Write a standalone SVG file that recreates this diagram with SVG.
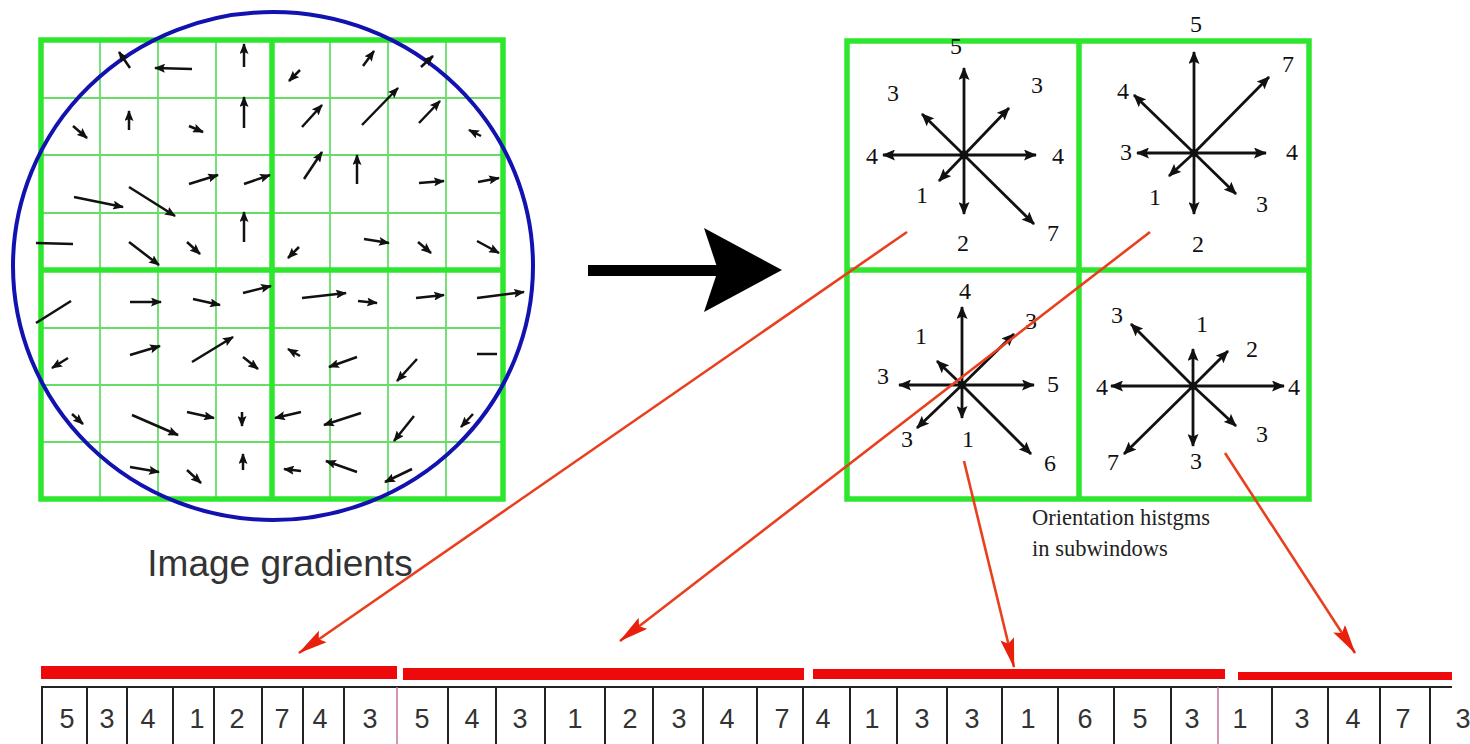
<svg xmlns="http://www.w3.org/2000/svg" width="1470" height="744" viewBox="0 0 1470 744">
<style>
.thin{stroke:#66dd66;stroke-width:1.8;fill:none}
.thick{stroke:#2ee62e;stroke-width:5.5;fill:none}
.ga{stroke:#111;stroke-width:2.5;fill:none;marker-end:url(#ah)}
.gl{stroke:#111;stroke-width:2.5;fill:none}
.ha{stroke:#111;stroke-width:2.8;fill:none;marker-end:url(#hh)}
.red{stroke:#e8401e;stroke-width:2.6;fill:none;marker-end:url(#rh)}
.hl{font-family:"Liberation Serif",serif;font-size:24px;fill:#111;text-anchor:middle}
.tn{font-family:"Liberation Sans",sans-serif;font-size:27px;fill:#333;text-anchor:middle}
.tl{stroke:#222;stroke-width:2}
.bar{fill:#ee0a0a}
</style>
<defs>
<marker id="ah" markerUnits="userSpaceOnUse" markerWidth="11" markerHeight="9" refX="10" refY="4.5" orient="auto"><path d="M0,0 L11,4.5 L0,9 L2,4.5 z" fill="#111"/></marker>
<marker id="hh" markerUnits="userSpaceOnUse" markerWidth="13" markerHeight="11" refX="12" refY="5.5" orient="auto"><path d="M0,0 L13,5.5 L0,11 L2.5,5.5 z" fill="#111"/></marker>
<marker id="rh" markerUnits="userSpaceOnUse" markerWidth="30" markerHeight="14" refX="29" refY="7" orient="auto"><path d="M0,0 L30,7 L0,14 L5,7 z" fill="#e8200c"/></marker>
</defs>
<rect width="1470" height="744" fill="#fff"/>

<g id="gradient-grid">
<g class="thin">
<line x1="100" y1="40" x2="100" y2="499"/><line x1="158" y1="40" x2="158" y2="499"/><line x1="216" y1="40" x2="216" y2="499"/>
<line x1="330" y1="40" x2="330" y2="499"/><line x1="388" y1="40" x2="388" y2="499"/><line x1="446" y1="40" x2="446" y2="499"/>
<line x1="41" y1="98" x2="503" y2="98"/><line x1="41" y1="155" x2="503" y2="155"/><line x1="41" y1="213" x2="503" y2="213"/>
<line x1="41" y1="328" x2="503" y2="328"/><line x1="41" y1="385" x2="503" y2="385"/><line x1="41" y1="442" x2="503" y2="442"/>
</g>
<g class="thick">
<rect x="41" y="40" width="462" height="459"/>
<line x1="272" y1="40" x2="272" y2="499"/><line x1="41" y1="270" x2="503" y2="270"/>
</g>
<ellipse cx="273" cy="266" rx="260" ry="254" fill="none" stroke="#1212b0" stroke-width="4"/>
<g id="gradients">
<line class="ga" x1="130" y1="68" x2="119" y2="52"/>
<line class="ga" x1="192" y1="69" x2="155" y2="68"/>
<line class="ga" x1="244" y1="67" x2="244" y2="44"/>
<line class="ga" x1="73" y1="126" x2="87" y2="138"/>
<line class="ga" x1="129" y1="130" x2="129" y2="111"/>
<line class="ga" x1="189" y1="126" x2="203" y2="132"/>
<line class="ga" x1="244" y1="128" x2="244" y2="97"/>
<line class="ga" x1="189" y1="184" x2="218" y2="175"/>
<line class="ga" x1="244" y1="184" x2="270" y2="175"/>
<line class="ga" x1="74" y1="197" x2="123" y2="207"/>
<line class="ga" x1="129" y1="187" x2="175" y2="216"/>
<line class="gl" x1="36" y1="243" x2="73" y2="244"/>
<line class="ga" x1="129" y1="242" x2="159" y2="265"/>
<line class="ga" x1="187" y1="242" x2="200" y2="254"/>
<line class="ga" x1="244" y1="242" x2="244" y2="212"/>
<line class="ga" x1="300" y1="70" x2="289" y2="81"/>
<line class="ga" x1="363" y1="66" x2="374" y2="51"/>
<line class="ga" x1="421" y1="67" x2="433" y2="56"/>
<line class="ga" x1="302" y1="127" x2="322" y2="105"/>
<line class="ga" x1="362" y1="125" x2="398" y2="88"/>
<line class="ga" x1="419" y1="123" x2="440" y2="101"/>
<line class="ga" x1="481" y1="136" x2="469" y2="130"/>
<line class="ga" x1="304" y1="179" x2="322" y2="152"/>
<line class="ga" x1="357" y1="184" x2="357" y2="155"/>
<line class="ga" x1="419" y1="183" x2="444" y2="181"/>
<line class="ga" x1="478" y1="182" x2="499" y2="178"/>
<line class="ga" x1="299" y1="247" x2="288" y2="258"/>
<line class="ga" x1="364" y1="239" x2="389" y2="243"/>
<line class="ga" x1="418" y1="242" x2="431" y2="253"/>
<line class="ga" x1="477" y1="241" x2="499" y2="253"/>
<line class="gl" x1="36" y1="323" x2="71" y2="301"/>
<line class="ga" x1="130" y1="302" x2="161" y2="302"/>
<line class="ga" x1="193" y1="299" x2="220" y2="305"/>
<line class="ga" x1="243" y1="293" x2="271" y2="286"/>
<line class="ga" x1="68" y1="358" x2="52" y2="368"/>
<line class="ga" x1="130" y1="355" x2="160" y2="346"/>
<line class="ga" x1="192" y1="362" x2="233" y2="337"/>
<line class="ga" x1="243" y1="357" x2="258" y2="369"/>
<line class="ga" x1="72" y1="414" x2="83" y2="424"/>
<line class="ga" x1="132" y1="415" x2="178" y2="435"/>
<line class="ga" x1="187" y1="412" x2="214" y2="418"/>
<line class="ga" x1="242" y1="412" x2="242" y2="426"/>
<line class="ga" x1="130" y1="467" x2="159" y2="472"/>
<line class="ga" x1="187" y1="470" x2="201" y2="483"/>
<line class="ga" x1="243" y1="470" x2="243" y2="454"/>
<line class="ga" x1="302" y1="298" x2="346" y2="293"/>
<line class="ga" x1="358" y1="301" x2="377" y2="303"/>
<line class="ga" x1="416" y1="298" x2="444" y2="295"/>
<line class="ga" x1="477" y1="298" x2="524" y2="292"/>
<line class="ga" x1="300" y1="356" x2="288" y2="349"/>
<line class="ga" x1="357" y1="357" x2="329" y2="367"/>
<line class="ga" x1="417" y1="359" x2="397" y2="381"/>
<line class="gl" x1="477" y1="354" x2="497" y2="354"/>
<line class="ga" x1="301" y1="412" x2="275" y2="418"/>
<line class="ga" x1="361" y1="413" x2="324" y2="425"/>
<line class="ga" x1="414" y1="416" x2="394" y2="441"/>
<line class="ga" x1="473" y1="414" x2="461" y2="427"/>
<line class="ga" x1="301" y1="471" x2="284" y2="469"/>
<line class="ga" x1="357" y1="472" x2="326" y2="461"/>
<line class="ga" x1="412" y1="469" x2="385" y2="482"/>
</g>
<text x="280" y="576" font-family="Liberation Sans, sans-serif" font-size="37" fill="#333" text-anchor="middle">Image gradients</text>
</g>

<g id="big-arrow">
<rect x="588" y="265" width="132" height="11" fill="#000"/>
<polygon points="704,228 782,270 704,312 718,270" fill="#000"/>
</g>

<g id="histogram-grid">
<g class="thick">
<rect x="847" y="41" width="462" height="458"/>
<line x1="1079" y1="41" x2="1079" y2="499"/><line x1="847" y1="270" x2="1309" y2="270"/>
</g>
</g>

<g id="hist-1">
<line class="ha" x1="964" y1="155" x2="964" y2="68" stroke-width="4.5"/>
<line class="ha" x1="964" y1="155" x2="964" y2="214" stroke-width="4.5"/>
<line class="ha" x1="964" y1="155" x2="883" y2="155" stroke-width="3.2"/>
<line class="ha" x1="964" y1="155" x2="1036" y2="155" stroke-width="3.2"/>
<line class="ha" x1="964" y1="155" x2="922" y2="114"/>
<line class="ha" x1="964" y1="155" x2="1009" y2="108"/>
<line class="ha" x1="964" y1="155" x2="939" y2="181"/>
<line class="ha" x1="964" y1="155" x2="1034" y2="224"/>
<circle cx="964" cy="155" r="4.5" fill="#111"/>
<text class="hl" x="956" y="54">5</text>
<text class="hl" x="893" y="101">3</text>
<text class="hl" x="1037" y="93">3</text>
<text class="hl" x="872" y="164">4</text>
<text class="hl" x="1058" y="164">4</text>
<text class="hl" x="922" y="203">1</text>
<text class="hl" x="963" y="251">2</text>
<text class="hl" x="1053" y="241">7</text>
</g>

<g id="hist-2">
<line class="ha" x1="1194" y1="153" x2="1194" y2="52"/>
<line class="ha" x1="1194" y1="153" x2="1194" y2="214"/>
<line class="ha" x1="1194" y1="153" x2="1137" y2="153"/>
<line class="ha" x1="1194" y1="153" x2="1266" y2="153"/>
<line class="ha" x1="1194" y1="153" x2="1134" y2="95"/>
<line class="ha" x1="1194" y1="153" x2="1269" y2="77"/>
<line class="ha" x1="1194" y1="153" x2="1169" y2="176"/>
<line class="ha" x1="1194" y1="153" x2="1236" y2="194"/>
<circle cx="1194" cy="153" r="4" fill="#111"/>
<text class="hl" x="1196" y="32">5</text>
<text class="hl" x="1288" y="72">7</text>
<text class="hl" x="1123" y="99">4</text>
<text class="hl" x="1126" y="160">3</text>
<text class="hl" x="1292" y="160">4</text>
<text class="hl" x="1155" y="205">1</text>
<text class="hl" x="1262" y="212">3</text>
<text class="hl" x="1198" y="252">2</text>
</g>

<g id="hist-3">
<line class="ha" x1="962" y1="385" x2="962" y2="307"/>
<line class="ha" x1="962" y1="385" x2="962" y2="418"/>
<line class="ha" x1="962" y1="385" x2="899" y2="385"/>
<line class="ha" x1="962" y1="385" x2="1034" y2="385"/>
<line class="ha" x1="962" y1="385" x2="937" y2="361"/>
<line class="ha" x1="962" y1="385" x2="1014" y2="334"/>
<line class="ha" x1="962" y1="385" x2="917" y2="428"/>
<line class="ha" x1="962" y1="385" x2="1031" y2="454"/>
<circle cx="962" cy="385" r="4" fill="#111"/>
<text class="hl" x="965" y="299">4</text>
<text class="hl" x="921" y="344">1</text>
<text class="hl" x="883" y="384">3</text>
<text class="hl" x="1053" y="392">5</text>
<text class="hl" x="1031" y="329">3</text>
<text class="hl" x="907" y="447">3</text>
<text class="hl" x="968" y="447">1</text>
<text class="hl" x="1050" y="471">6</text>
</g>

<g id="hist-4">
<line class="ha" x1="1193" y1="386" x2="1193" y2="349"/>
<line class="ha" x1="1193" y1="386" x2="1193" y2="446"/>
<line class="ha" x1="1193" y1="386" x2="1111" y2="386"/>
<line class="ha" x1="1193" y1="386" x2="1284" y2="386"/>
<line class="ha" x1="1193" y1="386" x2="1131" y2="324"/>
<line class="ha" x1="1193" y1="386" x2="1228" y2="351"/>
<line class="ha" x1="1193" y1="386" x2="1124" y2="454"/>
<line class="ha" x1="1193" y1="386" x2="1236" y2="426"/>
<circle cx="1193" cy="386" r="4" fill="#111"/>
<text class="hl" x="1117" y="323">3</text>
<text class="hl" x="1202" y="332">1</text>
<text class="hl" x="1252" y="357">2</text>
<text class="hl" x="1102" y="395">4</text>
<text class="hl" x="1294" y="395">4</text>
<text class="hl" x="1262" y="442">3</text>
<text class="hl" x="1113" y="470">7</text>
<text class="hl" x="1196" y="469">3</text>
</g>

<text x="1032" y="525" font-family="Liberation Serif, serif" font-size="22.5" fill="#222">Orientation histgms</text>
<text x="1032" y="556" font-family="Liberation Serif, serif" font-size="22.5" fill="#222">in subwindows</text>

<g id="connectors">
<line class="red" x1="907" y1="232" x2="299" y2="653"/>
<line class="red" x1="1150" y1="232" x2="620" y2="641"/>
<line class="red" x1="964" y1="461" x2="1014" y2="667"/>
<line class="red" x1="1225" y1="453" x2="1355" y2="653"/>
</g>

<g id="feature-vector">
<rect class="bar" x="41" y="666" width="356" height="13"/>
<rect class="bar" x="403" y="668" width="401" height="12"/>
<rect class="bar" x="813" y="669" width="412" height="10"/>
<rect class="bar" x="1238" y="672" width="214" height="8"/>
<line class="tl" x1="41" y1="687" x2="1452" y2="687"/>
<g class="tl">
<line x1="42" y1="687" x2="42" y2="744"/><line x1="87" y1="687" x2="87" y2="744"/><line x1="127" y1="687" x2="127" y2="744"/>
<line x1="173" y1="687" x2="173" y2="744"/><line x1="214" y1="687" x2="214" y2="744"/><line x1="262" y1="687" x2="262" y2="744"/>
<line x1="303" y1="687" x2="303" y2="744"/><line x1="344" y1="687" x2="344" y2="744"/>
<line x1="448" y1="687" x2="448" y2="744"/><line x1="496" y1="687" x2="496" y2="744"/><line x1="545" y1="687" x2="545" y2="744"/>
<line x1="605" y1="687" x2="605" y2="744"/><line x1="653" y1="687" x2="653" y2="744"/><line x1="703" y1="687" x2="703" y2="744"/>
<line x1="757" y1="687" x2="757" y2="744"/><line x1="803" y1="687" x2="803" y2="744"/><line x1="850" y1="687" x2="850" y2="744"/>
<line x1="897" y1="687" x2="897" y2="744"/><line x1="947" y1="687" x2="947" y2="744"/><line x1="1002" y1="687" x2="1002" y2="744"/>
<line x1="1058" y1="687" x2="1058" y2="744"/><line x1="1114" y1="687" x2="1114" y2="744"/><line x1="1171" y1="687" x2="1171" y2="744"/>
<line x1="1272" y1="687" x2="1272" y2="744"/><line x1="1328" y1="687" x2="1328" y2="744"/><line x1="1380" y1="687" x2="1380" y2="744"/>
<line x1="1430" y1="687" x2="1430" y2="744"/>
</g>
<line x1="397" y1="687" x2="397" y2="744" stroke="#c8709a" stroke-width="1.5"/>
<line x1="1218" y1="687" x2="1218" y2="744" stroke="#c8709a" stroke-width="1.5"/>
<g class="tn">
<text x="67" y="728">5</text><text x="107" y="728">3</text><text x="148" y="728">4</text><text x="197" y="728">1</text>
<text x="237" y="728">2</text><text x="282" y="728">7</text><text x="320" y="728">4</text><text x="370" y="728">3</text>
<text x="422" y="728">5</text><text x="472" y="728">4</text><text x="520" y="728">3</text><text x="575" y="728">1</text>
<text x="630" y="728">2</text><text x="679" y="728">3</text><text x="727" y="728">4</text><text x="782" y="728">7</text>
<text x="823" y="728">4</text><text x="872" y="728">1</text><text x="922" y="728">3</text><text x="972" y="728">3</text>
<text x="1028" y="728">1</text><text x="1085" y="728">6</text><text x="1140" y="728">5</text><text x="1192" y="728">3</text>
<text x="1240" y="728">1</text><text x="1302" y="728">3</text><text x="1353" y="728">4</text><text x="1403" y="728">7</text>
<text x="1463" y="728">3</text>
</g>
</g>
</svg>
